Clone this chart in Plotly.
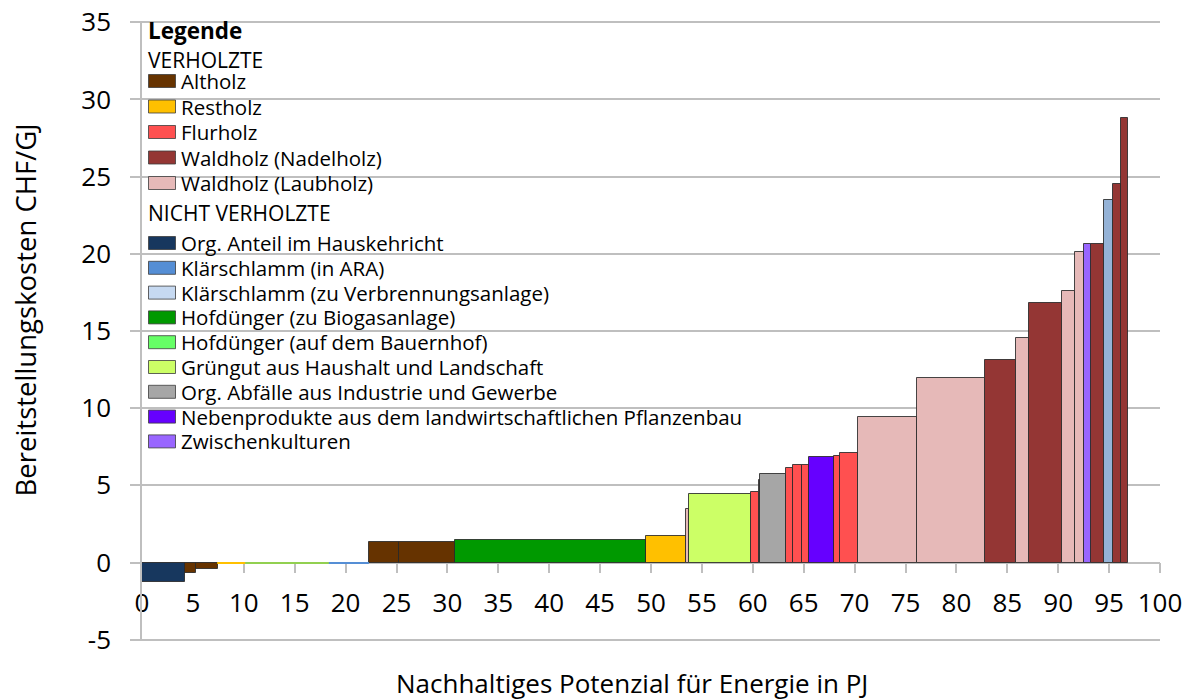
import numpy as np
import plotly.graph_objects as go

# ---- legend categories (in legend order) ----
categories = [
    "Altholz", "Restholz", "Flurholz", "Waldholz (Nadelholz)", "Waldholz (Laubholz)",
    "Org. Anteil im Hauskehricht", "Klärschlamm (in ARA)", "Klärschlamm (zu Verbrennungsanlage)",
    "Hofdünger (zu Biogasanlage)", "Hofdünger (auf dem Bauernhof)", "Grüngut aus Haushalt und Landschaft",
    "Org. Abfälle aus Industrie und Gewerbe", "Nebenprodukte aus dem landwirtschaftlichen Pflanzenbau",
    "Zwischenkulturen",
]
category_groups = ["VERHOLZTE"] * 5 + ["NICHT VERHOLZTE"] * 9
bar_colors = [
    "#663300", "#FFC000", "#FF5050", "#943634", "#E6B9B8",
    "#17375E", "#558ED5", "#95B3D7",
    "#009900", "#92D050", "#CCFF66",
    "#A6A6A6", "#6600FF", "#9966FF",
]
legend_colors = [
    "#663300", "#FFC000", "#FF5050", "#943634", "#E6B9B8",
    "#17375E", "#558ED5", "#C6D9F1",
    "#009900", "#66FF66", "#CCFF66",
    "#A6A6A6", "#6600FF", "#9966FF",
]

# ---- supply curve segments (in order along x) ----
seg_category = [
    "Org. Anteil im Hauskehricht", "Altholz", "Altholz", "Restholz",
    "Hofdünger (auf dem Bauernhof)", "Klärschlamm (in ARA)", "Altholz", "Altholz",
    "Hofdünger (zu Biogasanlage)", "Restholz", "Waldholz (Laubholz)",
    "Grüngut aus Haushalt und Landschaft", "Flurholz", "Waldholz (Laubholz)",
    "Org. Abfälle aus Industrie und Gewerbe", "Flurholz", "Flurholz", "Flurholz",
    "Nebenprodukte aus dem landwirtschaftlichen Pflanzenbau", "Flurholz", "Flurholz",
    "Waldholz (Laubholz)", "Waldholz (Laubholz)", "Waldholz (Nadelholz)", "Waldholz (Laubholz)",
    "Waldholz (Nadelholz)", "Waldholz (Laubholz)", "Waldholz (Laubholz)", "Zwischenkulturen",
    "Waldholz (Nadelholz)", "Klärschlamm (zu Verbrennungsanlage)", "Waldholz (Nadelholz)",
    "Waldholz (Nadelholz)",
]
seg_potential_pj = [
    4.18, 1.15, 2.12, 2.79, 8.13, 3.90, 2.98, 5.50, 18.75, 3.93, 0.27, 6.14, 0.79, 0.10,
    2.52, 0.65, 0.92, 0.68, 2.43, 0.66, 1.71, 5.83, 6.70, 3.03, 1.31, 3.24, 1.21, 0.88,
    0.74, 1.23, 0.89, 0.85, 0.66,
]
seg_cost_chf_gj = [
    -1.25, -0.65, -0.43, -0.12, -0.12, -0.12, 1.32, 1.32, 1.49, 1.72, 3.46, 4.43, 4.58, 5.34,
    5.73, 6.12, 6.29, 6.35, 6.85, 6.90, 7.07, 9.46, 11.95, 13.14, 14.54, 16.81, 17.56, 20.14,
    20.64, 20.64, 23.5, 24.5, 28.8,
]

x_tick_vals = list(range(0, 101, 5))
x_tick_text = [str(v) for v in x_tick_vals]
y_tick_vals = [-5, 0, 5, 10, 15, 20, 25, 30, 35]
y_tick_text = ["-5", "0", "5", "10", "15", "20", "25", "30", "35"]

FONT = "Open Sans"
GRID = "#BFBFBF"
Y_RANGE = [-5.08, 35.08]

# page is rendered with an 8px body margin -> shrink figure accordingly
FIG_W, FIG_H = 1186, 692
ML, MR, MT, MB = 134, 34, 13, 59
PX0 = 8 + ML                 # page x of plot left
PY0 = 8 + MT                 # page y of plot top
PW = FIG_W - ML - MR
PH = FIG_H - MT - MB


def px_to_paper(px, py):
    return (px - PX0) / PW, (PY0 + PH - py) / PH


edges = np.concatenate([[0.0], np.cumsum(seg_potential_pj)])
centers = (edges[:-1] + edges[1:]) / 2.0
widths = np.array(seg_potential_pj)
costs = np.array(seg_cost_chf_gj)
cats = np.array(seg_category)

fig = go.Figure()
for cat, col in zip(categories, bar_colors):
    m = cats == cat
    line_cols = ["rgba(40,40,40,0.85)" if abs(c) > 0.2 else col for c in costs[m]]
    fig.add_trace(go.Bar(
        x=centers[m], y=costs[m], width=widths[m], name=cat,
        marker=dict(color=col, line=dict(color=line_cols, width=1)),
        showlegend=False, hoverinfo="name+y",
    ))

# ---- hand-built legend (transparent, inside plot, top-left) ----
shapes = []
annotations = []
LEG_X_SW0, LEG_X_SW1, LEG_X_TXT = 148.5, 175.5, 178.5
LEG_FONT = 20.5


def add_text(text, py, size=LEG_FONT, x=146):
    xp, yp = px_to_paper(x, py)
    annotations.append(dict(text=text, xref="paper", yref="paper", x=xp, y=yp,
                            xanchor="left", yanchor="middle", showarrow=False,
                            font=dict(family=FONT, size=size, color="#000")))


add_text("<b>Legende</b>", 30.5, size=22.5)
row_y = {"VERHOLZTE": (60.0, 81.0, 25.5), "NICHT VERHOLZTE": (213.0, 243.0, 24.8)}
counters = {"VERHOLZTE": 0, "NICHT VERHOLZTE": 0}
for g, (ty, _, _) in row_y.items():
    add_text(g, ty, size=21)
for cat, grp, lc in zip(categories, category_groups, legend_colors):
    _, y0, step = row_y[grp]
    py = y0 + counters[grp] * step
    counters[grp] += 1
    x0p, y0p = px_to_paper(LEG_X_SW0, py + 6.5)
    x1p, y1p = px_to_paper(LEG_X_SW1, py - 6.5)
    shapes.append(dict(type="rect", xref="paper", yref="paper", x0=x0p, x1=x1p, y0=y0p, y1=y1p,
                       fillcolor=lc, line=dict(color="rgba(60,60,60,0.8)", width=1)))
    add_text(cat, py, x=LEG_X_TXT)

# axis titles
xt, yt = px_to_paper(632, 683)
annotations.append(dict(text="Nachhaltiges Potenzial für Energie in PJ", xref="paper", yref="paper",
                        x=xt, y=yt, xanchor="center", yanchor="middle", showarrow=False,
                        font=dict(family=FONT, size=26, color="#000")))
xt, yt = px_to_paper(25, 310.5)
annotations.append(dict(text="Bereitstellungskosten CHF/GJ", xref="paper", yref="paper",
                        x=xt, y=yt, xanchor="center", yanchor="middle", showarrow=False,
                        textangle=-90, font=dict(family=FONT, size=27.5, color="#000")))

fig.update_layout(
    width=FIG_W, height=FIG_H,
    margin=dict(l=ML, r=MR, t=MT, b=MB, autoexpand=False),
    paper_bgcolor="white", plot_bgcolor="white",
    barmode="overlay", bargap=0, showlegend=False,
    font=dict(family=FONT, color="#000"),
    xaxis=dict(
        range=[0, 100], tickvals=x_tick_vals, ticktext=x_tick_text,
        ticks="outside", ticklen=10, tickcolor=GRID, tickwidth=1.5,
        showline=True, linecolor=GRID, linewidth=1.5,
        showgrid=False, zeroline=False, layer="below traces",
        anchor="free", position=(0 - Y_RANGE[0]) / (Y_RANGE[1] - Y_RANGE[0]),
        tickfont=dict(family=FONT, size=26, color="#000"),
        ticklabelstandoff=7, ticklabeloverflow="allow",
    ),
    yaxis=dict(
        range=Y_RANGE, tickvals=y_tick_vals, ticktext=y_tick_text,
        ticks="outside", ticklen=10, tickcolor=GRID, tickwidth=1.5,
        showline=True, linecolor=GRID, linewidth=1.5,
        showgrid=True, gridcolor=GRID, gridwidth=1.5, zeroline=False,
        tickfont=dict(family=FONT, size=26, color="#000"),
        ticklabelstandoff=14, ticklabeloverflow="allow",
    ),
    shapes=shapes,
    annotations=annotations,
)

fig.write_html("out.html")
